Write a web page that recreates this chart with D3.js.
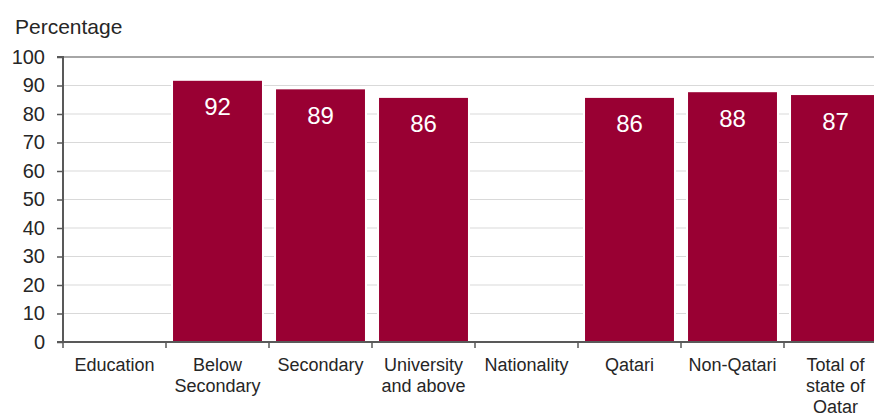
<!DOCTYPE html>
<html>
<head>
<meta charset="utf-8">
<script src="https://cdn.jsdelivr.net/npm/d3@7"></script>
<style>
  html, body { margin: 0; padding: 0; background: #fff; }
  svg { display: block; overflow: hidden; font-family: "Liberation Sans", Arial, sans-serif; }
</style>
</head>
<body>
<svg id="chart" width="874" height="413"></svg>
<script>
// Categories (group headers have no value)
const categories = ["Education", "Below Secondary", "Secondary", "University and above",
                    "Nationality", "Qatari", "Non-Qatari", "Total of state of Qatar"];
const categoryLines = [["Education"], ["Below", "Secondary"], ["Secondary"], ["University", "and above"],
                       ["Nationality"], ["Qatari"], ["Non-Qatari"], ["Total of", "state of", "Qatar"]];
const values = [null, 92, 89, 86, null, 86, 88, 87];
const yTicks = [0, 10, 20, 30, 40, 50, 60, 70, 80, 90, 100];
const yTitle = "Percentage";

(function draw() {
  const svg = d3.select("#chart");
  const plotLeft = 63, plotTop = 57, plotBottom = 342, step = 103;

  const x = d3.scaleBand()
    .domain(categories)
    .range([plotLeft, plotLeft + step * categories.length])
    .paddingInner(0.117)
    .paddingOuter(0.0585);

  const y = d3.scaleLinear().domain([0, 100]).range([plotBottom, plotTop]);
  const plotRight = plotLeft + step * categories.length;

  // light gridlines
  svg.append("g")
    .selectAll("line")
    .data(yTicks.filter(t => t > 0 && t < 100))
    .join("line")
    .attr("x1", plotLeft).attr("x2", plotRight)
    .attr("y1", d => y(d)).attr("y2", d => y(d))
    .attr("stroke", "#d9d9d9").attr("stroke-width", 1.2);

  // top border line at 100
  svg.append("line")
    .attr("x1", plotLeft).attr("x2", plotRight)
    .attr("y1", y(100)).attr("y2", y(100))
    .attr("stroke", "#a6a6a6").attr("stroke-width", 2);

  // bars
  const data = categories.map((c, i) => ({ c, v: values[i] })).filter(d => d.v != null);
  svg.append("g")
    .selectAll("rect")
    .data(data)
    .join("rect")
    .attr("x", d => x(d.c))
    .attr("width", x.bandwidth())
    .attr("y", d => y(d.v))
    .attr("height", d => y(0) - y(d.v))
    .attr("fill", "#990033")
    .attr("stroke", "#fff")
    .attr("stroke-width", 2);

  // value labels
  svg.append("g")
    .selectAll("text")
    .data(data)
    .join("text")
    .attr("x", d => x(d.c) + x.bandwidth() / 2)
    .attr("y", d => y(d.v) + 27)
    .attr("text-anchor", "middle")
    .attr("dominant-baseline", "central")
    .attr("fill", "#fff")
    .attr("font-size", 24)
    .text(d => d.v);

  // y axis
  const yAxis = svg.append("g")
    .attr("transform", `translate(${plotLeft},0)`)
    .call(d3.axisLeft(y).tickValues(yTicks).tickSize(6).tickPadding(12));
  yAxis.select(".domain").attr("stroke", "#595959").attr("stroke-width", 2)
    .attr("d", `M-6,${y(100)}H0V${y(0)}H-6`);
  yAxis.selectAll(".tick line").attr("stroke", "#595959").attr("stroke-width", 1.5);
  yAxis.selectAll(".tick text").attr("fill", "#262626").attr("font-size", 20)
    .attr("font-family", "Liberation Sans, Arial, sans-serif");

  // x axis baseline and category boundary ticks
  const gx = svg.append("g");
  gx.append("line")
    .attr("x1", plotLeft).attr("x2", plotRight)
    .attr("y1", y(0)).attr("y2", y(0))
    .attr("stroke", "#595959").attr("stroke-width", 2);
  const boundaries = categories.map(c => x(c) - x.step() * x.paddingInner() / 2);
  gx.selectAll("line.tk")
    .data(boundaries)
    .join("line")
    .attr("class", "tk")
    .attr("x1", d => d).attr("x2", d => d)
    .attr("y1", y(0)).attr("y2", y(0) + 6)
    .attr("stroke", "#595959").attr("stroke-width", 1.5);

  // category labels (the last one runs past the bottom edge)
  gx.selectAll("text.cat")
    .data(categories)
    .join("text")
    .attr("class", "cat")
    .attr("text-anchor", "middle")
    .attr("fill", "#262626")
    .attr("font-size", 18)
    .each(function(c, i) {
      const t = d3.select(this);
      const cx = x(c) + x.bandwidth() / 2;
      categoryLines[i].forEach((line, j) => {
        t.append("tspan").attr("x", cx).attr("y", 371 + j * 21).text(line);
      });
    });

  // y title
  svg.append("text")
    .attr("x", 15).attr("y", 34)
    .attr("fill", "#262626")
    .attr("font-size", 21)
    .text(yTitle);
})();
</script>
</body>
</html>
